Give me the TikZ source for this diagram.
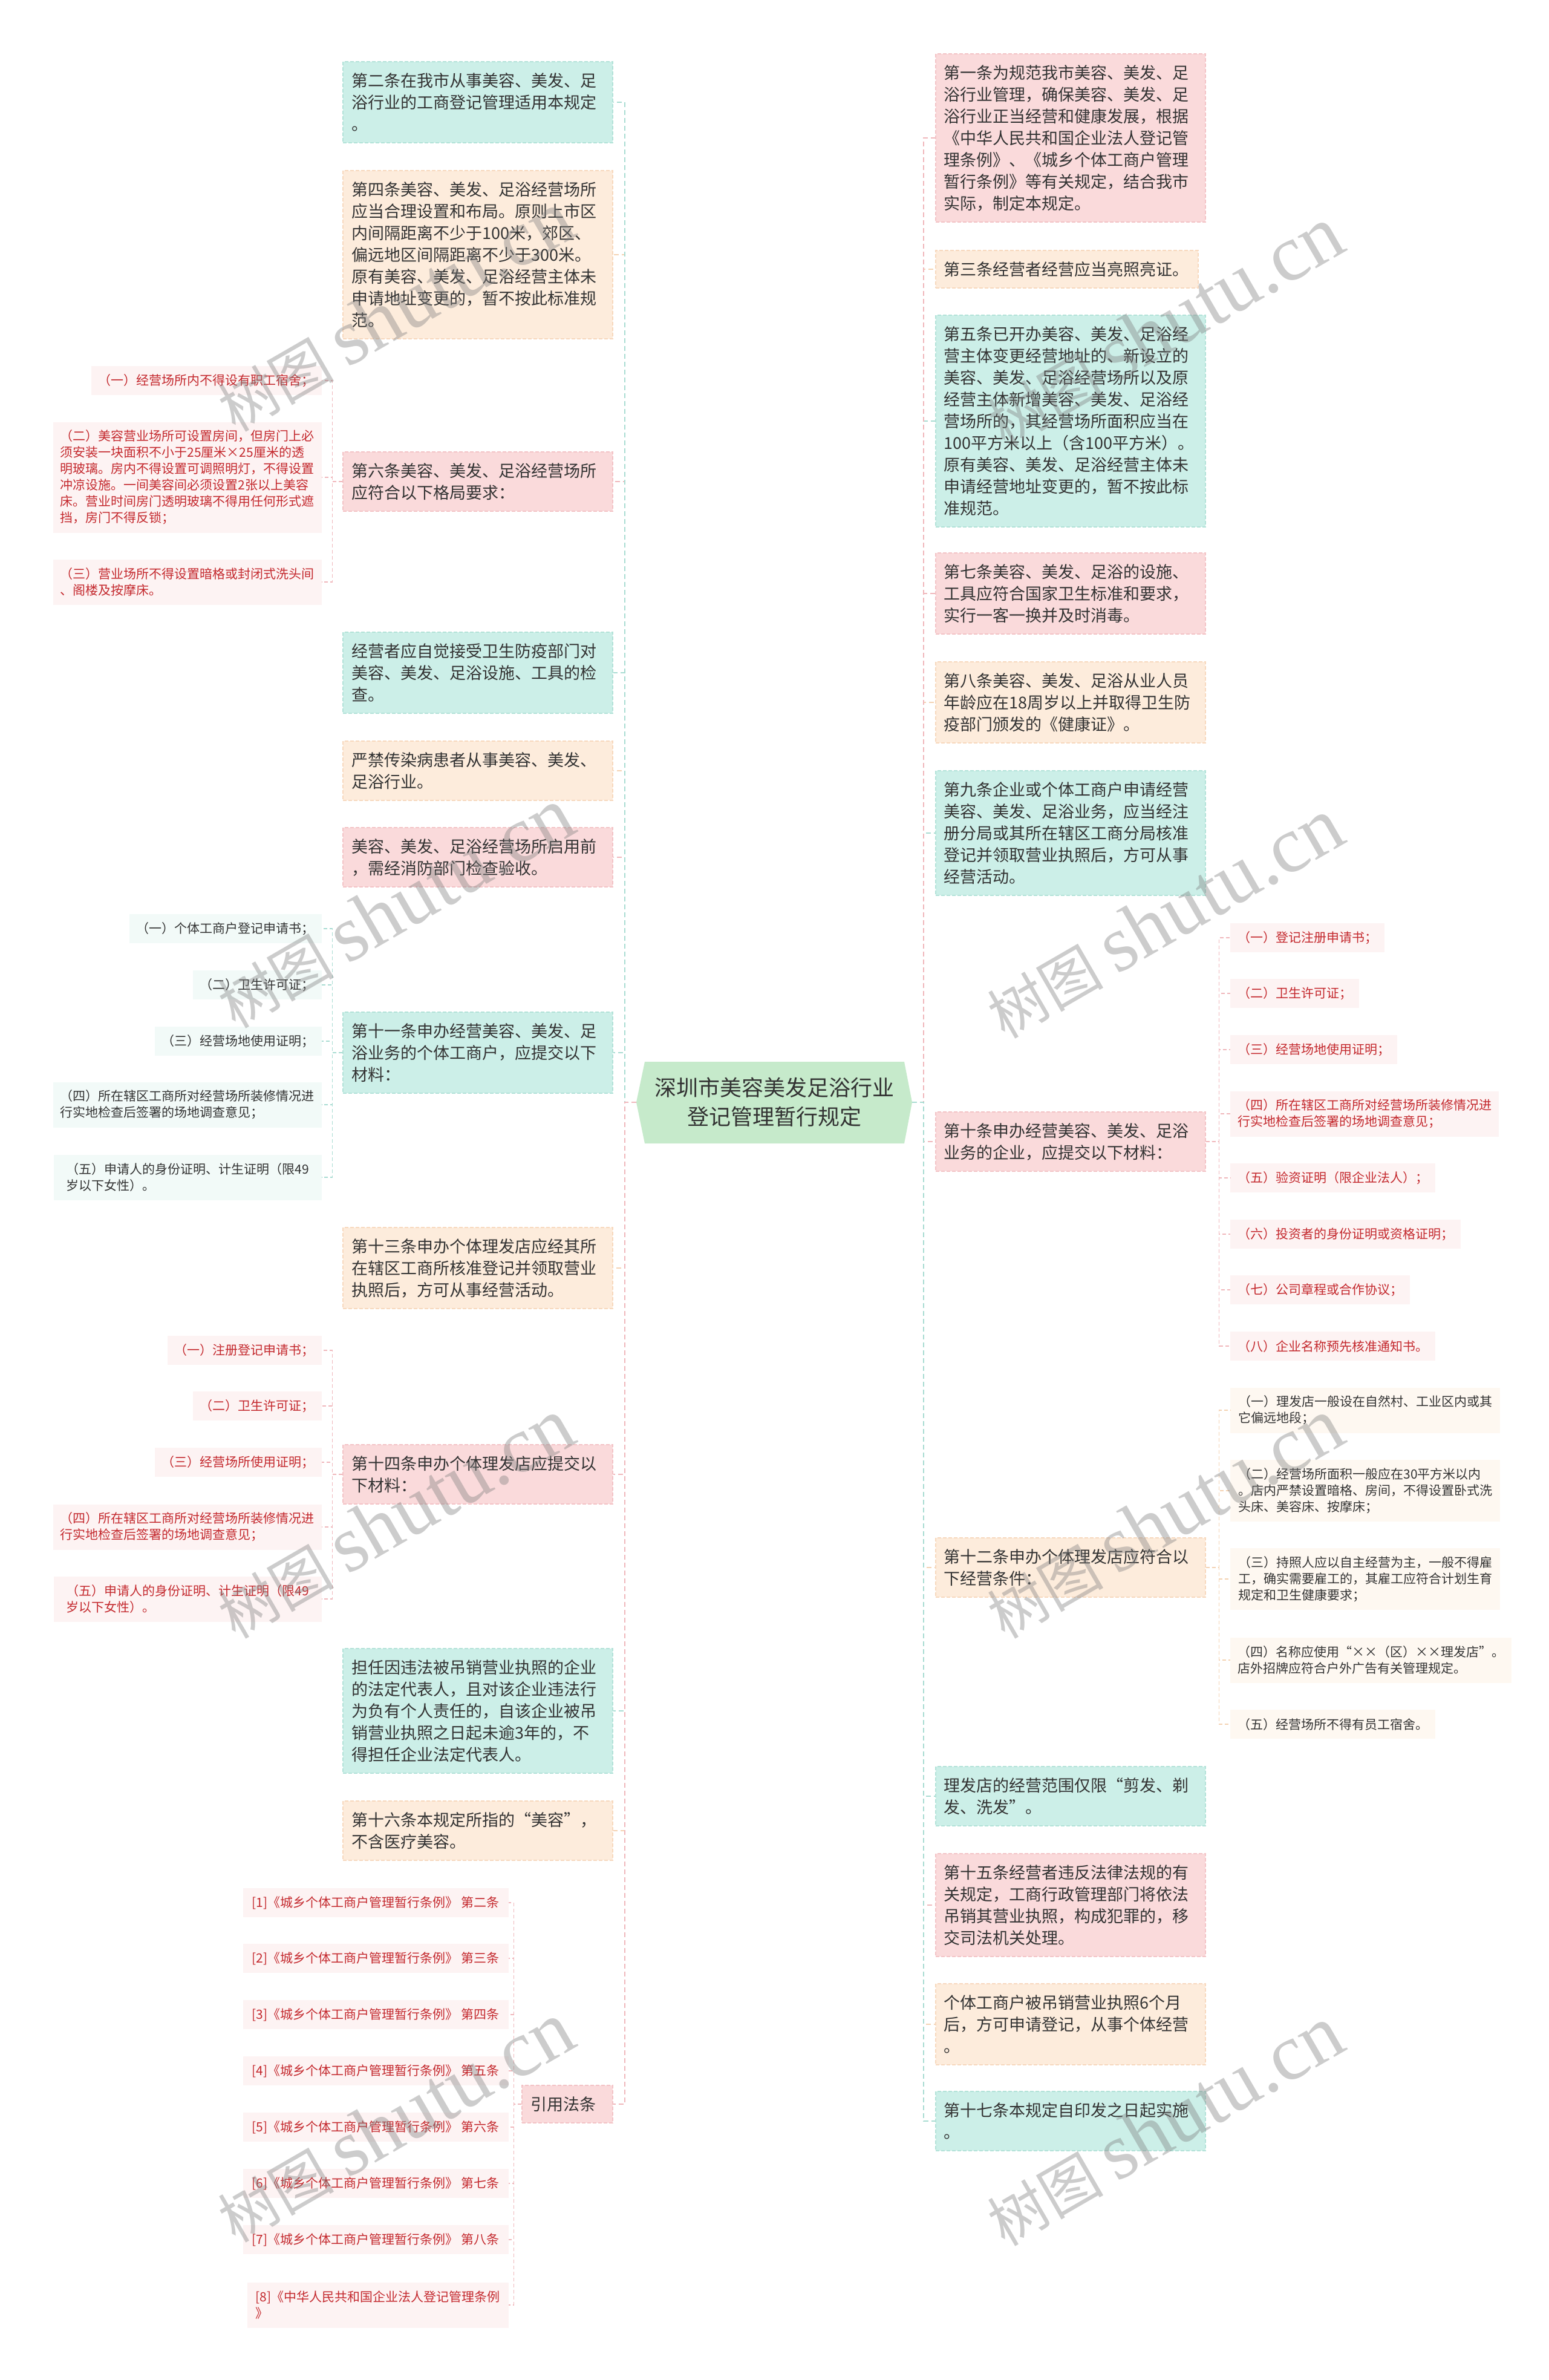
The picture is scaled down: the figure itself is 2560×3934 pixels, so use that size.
\documentclass[tikz,border=0pt]{standalone}
\usepackage{fontspec}
\setmainfont{Noto Sans CJK SC}
\newfontfamily\wmlatin{Liberation Serif}
\definecolor{txt}{HTML}{333333}
\definecolor{redtxt}{HTML}{C4292E}
\definecolor{tealF}{HTML}{CCEFE8}
\definecolor{tealB}{HTML}{B2E2D8}
\definecolor{tealL}{HTML}{A8DCD2}
\definecolor{peachF}{HTML}{FDECDC}
\definecolor{peachB}{HTML}{F7D8BD}
\definecolor{peachL}{HTML}{F4D2B2}
\definecolor{pinkF}{HTML}{FADADB}
\definecolor{pinkB}{HTML}{F3C3C6}
\definecolor{pinkL}{HTML}{F0B7BB}
\definecolor{rootF}{HTML}{C6EACB}
\definecolor{sTealF}{HTML}{F2FAF8}
\definecolor{sPeachF}{HTML}{FEF8F1}
\definecolor{sPinkF}{HTML}{FDF3F3}
\newcommand\mainfnt{\fontsize{13.5pt}{18pt}\selectfont}
\newcommand\subfnt{\fontsize{10.5pt}{13.5pt}\selectfont}
\newcommand\rootfnt{\fontsize{18pt}{24pt}\selectfont}
\newcommand\wmtext{树图 {\wmlatin\fontsize{66pt}{66pt}\selectfont shutu.cn}}
\tikzset{
  mainbox/.style={font=\mainfnt, text=txt, align=left, text width=209pt, inner xsep=7pt, inner ysep=2pt, dash pattern=on 3pt off 1.5pt, line width=0.8pt},
  mteal/.style={mainbox, fill=tealF, draw=tealB},
  mpeach/.style={mainbox, fill=peachF, draw=peachB},
  mpink/.style={mainbox, fill=pinkF, draw=pinkB},
  mhA/.style={minimum height=31pt},
  mhB/.style={minimum height=49pt},
  mhC/.style={minimum height=67pt},
  mhD/.style={minimum height=85pt},
  mhE/.style={minimum height=103pt},
  mhG/.style={minimum height=139pt},
  mhI/.style={minimum height=175pt},
  subbox/.style={font=\subfnt, align=left, inner xsep=6pt, inner ysep=2pt},
  steal/.style={subbox, fill=sTealF, text=txt},
  speach/.style={subbox, fill=sPeachF, text=txt},
  spink/.style={subbox, fill=sPinkF, text=redtxt},
  shA/.style={minimum height=24pt},
  shB/.style={minimum height=37.5pt},
  shC/.style={minimum height=51pt},
  shF/.style={minimum height=91.5pt},
  conn/.style={line width=1.25pt, dash pattern=on 4pt off 2.5pt},
  sconn/.style={line width=0.75pt, dash pattern=on 3pt off 2pt},
  wm/.style={rotate=30, text=black!50, opacity=0.4, font=\fontsize{48pt}{48pt}\selectfont, inner sep=0pt},
}
\begin{document}
\begin{tikzpicture}[x=0.5pt,y=-0.5pt]
\fill[white] (0,0) rectangle (2560,3934);
\useasboundingbox (0,0) rectangle (2560,3934);

% root
\fill[rootF] (1066,1755) -- (1495,1755) -- (1508,1822) -- (1495,1890) -- (1066,1890) -- (1052,1822) -- cycle;
\node[font=\rootfnt, text=txt, align=center] (root) at (1280,1822) {深圳市美容美发足浴行业\\登记管理暂行规定};
\coordinate (rootL) at (1052,1822);
\coordinate (rootR) at (1508,1822);

% left main nodes
\node[mteal, mhC, anchor=east] (L1) at (1014,169) {第二条在我市从事美容、美发、足\\浴行业的工商登记管理适用本规定\\。};
\node[mpeach, mhG, anchor=east] (L2) at (1014,421) {第四条美容、美发、足浴经营场所\\应当合理设置和布局。原则上市区\\内间隔距离不少于100米，郊区、\\偏远地区间隔距离不少于300米。\\原有美容、美发、足浴经营主体未\\申请地址变更的，暂不按此标准规\\范。};
\node[mpink, mhB, anchor=east] (L3) at (1014,796) {第六条美容、美发、足浴经营场所\\应符合以下格局要求：};
\node[mteal, mhC, anchor=east] (L4) at (1014,1112) {经营者应自觉接受卫生防疫部门对\\美容、美发、足浴设施、工具的检\\查。};
\node[mpeach, mhB, anchor=east] (L5) at (1014,1274) {严禁传染病患者从事美容、美发、\\足浴行业。};
\node[mpink, mhB, anchor=east] (L6) at (1014,1417) {美容、美发、足浴经营场所启用前\\，需经消防部门检查验收。};
\node[mteal, mhC, anchor=east] (L7) at (1014,1740) {第十一条申办经营美容、美发、足\\浴业务的个体工商户，应提交以下\\材料：};
\node[mpeach, mhC, anchor=east] (L8) at (1014,2096) {第十三条申办个体理发店应经其所\\在辖区工商所核准登记并领取营业\\执照后，方可从事经营活动。};
\node[mpink, mhB, anchor=east] (L9) at (1014,2437) {第十四条申办个体理发店应提交以\\下材料：};
\node[mteal, mhE, anchor=east] (L10) at (1014,2828) {担任因违法被吊销营业执照的企业\\的法定代表人，且对该企业违法行\\为负有个人责任的，自该企业被吊\\销营业执照之日起未逾3年的，不\\得担任企业法定代表人。};
\node[mpeach, mhB, anchor=east] (L11) at (1014,3026) {第十六条本规定所指的“美容”，\\不含医疗美容。};
\node[mpink, mhA, anchor=east, text width=61pt] (L12) at (1014,3478) {引用法条};

% right main nodes
\node[mpink, mhG, anchor=west] (R1) at (1546,228) {第一条为规范我市美容、美发、足\\浴行业管理，确保美容、美发、足\\浴行业正当经营和健康发展，根据\\《中华人民共和国企业法人登记管\\理条例》、《城乡个体工商户管理\\暂行条例》等有关规定，结合我市\\实际，制定本规定。};
\node[mpeach, mhA, anchor=west, text width=203pt] (R2) at (1546,445) {第三条经营者经营应当亮照亮证。};
\node[mteal, mhI, anchor=west] (R3) at (1546,696) {第五条已开办美容、美发、足浴经\\营主体变更经营地址的、新设立的\\美容、美发、足浴经营场所以及原\\经营主体新增美容、美发、足浴经\\营场所的，其经营场所面积应当在\\100平方米以上（含100平方米）。\\原有美容、美发、足浴经营主体未\\申请经营地址变更的，暂不按此标\\准规范。};
\node[mpink, mhC, anchor=west] (R4) at (1546,981) {第七条美容、美发、足浴的设施、\\工具应符合国家卫生标准和要求，\\实行一客一换并及时消毒。};
\node[mpeach, mhC, anchor=west] (R5) at (1546,1161) {第八条美容、美发、足浴从业人员\\年龄应在18周岁以上并取得卫生防\\疫部门颁发的《健康证》。};
\node[mteal, mhE, anchor=west] (R6) at (1546,1377) {第九条企业或个体工商户申请经营\\美容、美发、足浴业务，应当经注\\册分局或其所在辖区工商分局核准\\登记并领取营业执照后，方可从事\\经营活动。};
\node[mpink, mhB, anchor=west] (R7) at (1546,1887) {第十条申办经营美容、美发、足浴\\业务的企业，应提交以下材料：};
\node[mpeach, mhB, anchor=west] (R8) at (1546,2591) {第十二条申办个体理发店应符合以\\下经营条件：};
\node[mteal, mhB, anchor=west] (R9) at (1546,2969) {理发店的经营范围仅限“剪发、剃\\发、洗发”。};
\node[mpink, mhD, anchor=west] (R10) at (1546,3149) {第十五条经营者违反法律法规的有\\关规定，工商行政管理部门将依法\\吊销其营业执照，构成犯罪的，移\\交司法机关处理。};
\node[mpeach, mhC, anchor=west] (R11) at (1546,3346) {个体工商户被吊销营业执照6个月\\后，方可申请登记，从事个体经营\\。};
\node[mteal, mhB, anchor=west] (R12) at (1546,3506) {第十七条本规定自印发之日起实施\\。};

% sub nodes of L3
\node[spink, shA, minimum width=189.5pt, anchor=east] (L3a) at (532,629) {（一）经营场所内不得设有职工宿舍；};
\node[spink, shF, minimum width=221.5pt, anchor=east] (L3b) at (532,789) {（二）美容营业场所可设置房间，但房门上必\\须安装一块面积不小于25厘米×25厘米的透\\明玻璃。房内不得设置可调照明灯，不得设置\\冲凉设施。一间美容间必须设置2张以上美容\\床。营业时间房门透明玻璃不得用任何形式遮\\挡，房门不得反锁；};
\node[spink, shB, minimum width=221.5pt, anchor=east] (L3c) at (532,962) {（三）营业场所不得设置暗格或封闭式洗头间\\、阁楼及按摩床。};

% sub nodes of L7
\node[steal, shA, minimum width=158.5pt, anchor=east] (L7a) at (532,1535) {（一）个体工商户登记申请书；};
\node[steal, shA, minimum width=106pt, anchor=east] (L7b) at (532,1628) {（二）卫生许可证；};
\node[steal, shA, minimum width=137pt, anchor=east] (L7c) at (532,1721) {（三）经营场地使用证明；};
\node[steal, shB, minimum width=221.5pt, anchor=east] (L7d) at (532,1826) {（四）所在辖区工商所对经营场所装修情况进\\行实地检查后签署的场地调查意见；};
\node[steal, shB, minimum width=221.5pt, anchor=east] (L7e) at (532,1946) {（五）申请人的身份证明、计生证明（限49\\岁以下女性）。};

% sub nodes of L9
\node[spink, shA, minimum width=127pt, anchor=east] (L9a) at (532,2232) {（一）注册登记申请书；};
\node[spink, shA, minimum width=106pt, anchor=east] (L9b) at (532,2324) {（二）卫生许可证；};
\node[spink, shA, minimum width=137pt, anchor=east] (L9c) at (532,2417) {（三）经营场所使用证明；};
\node[spink, shB, minimum width=221.5pt, anchor=east] (L9d) at (532,2524) {（四）所在辖区工商所对经营场所装修情况进\\行实地检查后签署的场地调查意见；};
\node[spink, shB, minimum width=221.5pt, anchor=east] (L9e) at (532,2643) {（五）申请人的身份证明、计生证明（限49\\岁以下女性）。};

% sub nodes of L12 (references)
\node[spink, shA, minimum width=219.5pt, anchor=east] (F1) at (841,3145) {[1]《城乡个体工商户管理暂行条例》 第二条};
\node[spink, shA, minimum width=219.5pt, anchor=east] (F2) at (841,3237) {[2]《城乡个体工商户管理暂行条例》 第三条};
\node[spink, shA, minimum width=219.5pt, anchor=east] (F3) at (841,3330) {[3]《城乡个体工商户管理暂行条例》 第四条};
\node[spink, shA, minimum width=219.5pt, anchor=east] (F4) at (841,3423) {[4]《城乡个体工商户管理暂行条例》 第五条};
\node[spink, shA, minimum width=219.5pt, anchor=east] (F5) at (841,3516) {[5]《城乡个体工商户管理暂行条例》 第六条};
\node[spink, shA, minimum width=219.5pt, anchor=east] (F6) at (841,3609) {[6]《城乡个体工商户管理暂行条例》 第七条};
\node[spink, shA, minimum width=219.5pt, anchor=east] (F7) at (841,3702) {[7]《城乡个体工商户管理暂行条例》 第八条};
\node[spink, shB, minimum width=216pt, anchor=east] (F8) at (841,3810) {[8]《中华人民共和国企业法人登记管理条例\\》};

% sub nodes of R7
\node[spink, shA, minimum width=126pt, anchor=west] (R7a) at (2034,1550) {（一）登记注册申请书；};
\node[spink, shA, minimum width=104.5pt, anchor=west] (R7b) at (2034,1642) {（二）卫生许可证；};
\node[spink, shA, minimum width=136pt, anchor=west] (R7c) at (2034,1735) {（三）经营场地使用证明；};
\node[spink, shB, minimum width=221.5pt, anchor=west] (R7d) at (2034,1841) {（四）所在辖区工商所对经营场所装修情况进\\行实地检查后签署的场地调查意见；};
\node[spink, shA, minimum width=167.5pt, anchor=west] (R7e) at (2034,1947) {（五）验资证明（限企业法人）；};
\node[spink, shA, minimum width=188.5pt, anchor=west] (R7f) at (2034,2040) {（六）投资者的身份证明或资格证明；};
\node[spink, shA, minimum width=146.5pt, anchor=west] (R7g) at (2034,2132) {（七）公司章程或合作协议；};
\node[spink, shA, minimum width=167.5pt, anchor=west] (R7h) at (2034,2225) {（八）企业名称预先核准通知书。};

% sub nodes of R8
\node[speach, shB, minimum width=223pt, anchor=west] (R8a) at (2034,2331) {（一）理发店一般设在自然村、工业区内或其\\它偏远地段；};
\node[speach, shC, minimum width=223pt, anchor=west] (R8b) at (2034,2464) {（二）经营场所面积一般应在30平方米以内\\。店内严禁设置暗格、房间，不得设置卧式洗\\头床、美容床、按摩床；};
\node[speach, shC, minimum width=223pt, anchor=west] (R8c) at (2034,2610) {（三）持照人应以自主经营为主，一般不得雇\\工，确实需要雇工的，其雇工应符合计划生育\\规定和卫生健康要求；};
\node[speach, shB, minimum width=223pt, anchor=west] (R8d) at (2034,2744) {（四）名称应使用“××（区）××理发店”。\\店外招牌应符合户外广告有关管理规定。};
\node[speach, shA, minimum width=167.5pt, anchor=west] (R8e) at (2034,2850) {（五）经营场所不得有员工宿舍。};

% connectors root -> left (nearest first)
\draw[conn, draw=tealL] (rootL) -- ++(-19,0) |- (L7.east);
\draw[conn, draw=peachL] (rootL) -- ++(-19,0) |- (L8.east);
\draw[conn, draw=pinkL] (rootL) -- ++(-19,0) |- (L6.east);
\draw[conn, draw=peachL] (rootL) -- ++(-19,0) |- (L5.east);
\draw[conn, draw=pinkL] (rootL) -- ++(-19,0) |- (L9.east);
\draw[conn, draw=tealL] (rootL) -- ++(-19,0) |- (L4.east);
\draw[conn, draw=tealL] (rootL) -- ++(-19,0) |- (L10.east);
\draw[conn, draw=pinkL] (rootL) -- ++(-19,0) |- (L3.east);
\draw[conn, draw=peachL] (rootL) -- ++(-19,0) |- (L11.east);
\draw[conn, draw=peachL] (rootL) -- ++(-19,0) |- (L2.east);
\draw[conn, draw=tealL] (rootL) -- ++(-19,0) |- (L1.east);
\draw[conn, draw=pinkL] (rootL) -- ++(-19,0) |- (L12.east);

% connectors root -> right (nearest first)
\draw[conn, draw=pinkL] (rootR) -- ++(19,0) |- (R7.west);
\draw[conn, draw=tealL] (rootR) -- ++(19,0) |- (R6.west);
\draw[conn, draw=peachL] (rootR) -- ++(19,0) |- (R5.west);
\draw[conn, draw=peachL] (rootR) -- ++(19,0) |- (R8.west);
\draw[conn, draw=pinkL] (rootR) -- ++(19,0) |- (R4.west);
\draw[conn, draw=tealL] (rootR) -- ++(19,0) |- (R3.west);
\draw[conn, draw=tealL] (rootR) -- ++(19,0) |- (R9.west);
\draw[conn, draw=pinkL] (rootR) -- ++(19,0) |- (R10.west);
\draw[conn, draw=peachL] (rootR) -- ++(19,0) |- (R2.west);
\draw[conn, draw=peachL] (rootR) -- ++(19,0) |- (R11.west);
\draw[conn, draw=pinkL] (rootR) -- ++(19,0) |- (R1.west);
\draw[conn, draw=tealL] (rootR) -- ++(19,0) |- (R12.west);

% sub connectors
\foreach \c in {L3a,L3b,L3c} \draw[sconn, draw=pinkL] (L3.west) -- ++(-17,0) |- (\c.east);
\foreach \c in {L7a,L7b,L7c,L7d,L7e} \draw[sconn, draw=tealL] (L7.west) -- ++(-17,0) |- (\c.east);
\foreach \c in {L9a,L9b,L9c,L9d,L9e} \draw[sconn, draw=pinkL] (L9.west) -- ++(-17,0) |- (\c.east);
\foreach \c in {F1,F2,F3,F4,F5,F6,F7,F8} \draw[sconn, draw=pinkL] (L12.west) -- ++(-13,0) |- (\c.east);
\foreach \c in {R7a,R7b,R7c,R7d,R7e,R7f,R7g,R7h} \draw[sconn, draw=pinkL] (R7.east) -- ++(22,0) |- (\c.west);
\foreach \c in {R8a,R8b,R8c,R8d,R8e} \draw[sconn, draw=peachL] (R8.east) -- ++(22,0) |- (\c.west);

% watermarks
\node[wm] (wm1) at (653,515) {\wmtext};
\node[wm] (wm2) at (1925,540) {\wmtext};
\node[wm] (wm3) at (653,1501) {\wmtext};
\node[wm] (wm4) at (1925,1518) {\wmtext};
\node[wm] (wm5) at (653,2510) {\wmtext};
\node[wm] (wm6) at (1925,2510) {\wmtext};
\node[wm] (wm7) at (653,3508) {\wmtext};
\node[wm] (wm8) at (1925,3514) {\wmtext};
\end{tikzpicture}
\end{document}
